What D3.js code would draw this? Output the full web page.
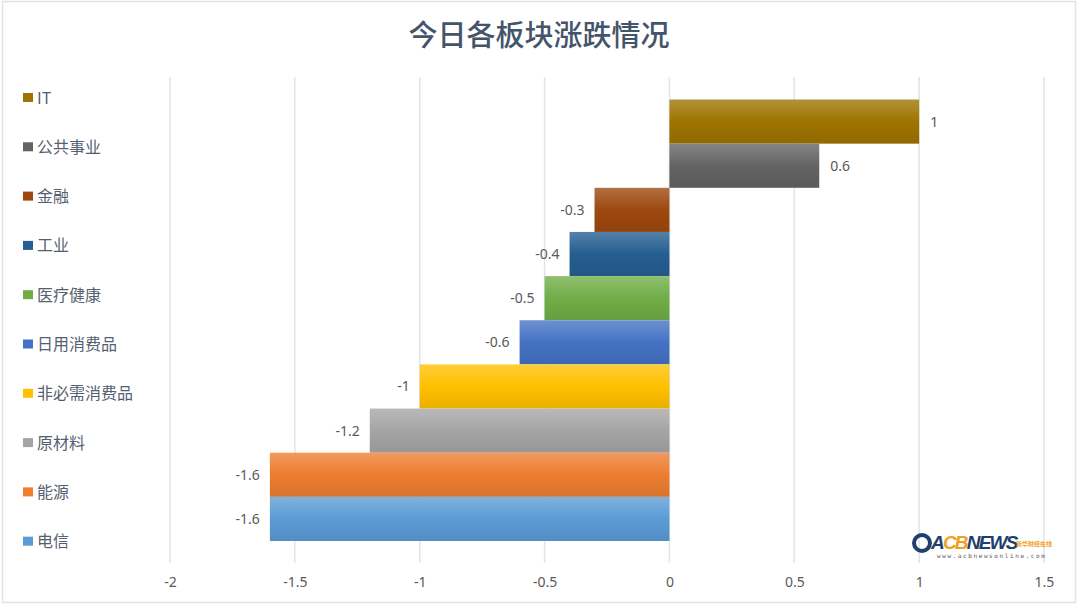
<!DOCTYPE html>
<html>
<head>
<meta charset="utf-8">
<script src="https://cdn.jsdelivr.net/npm/d3@7"></script>
<style>
  html, body { margin: 0; padding: 0; background: #fff; }
  svg { display: block; font-family: "Noto Sans CJK SC", "Noto Sans", sans-serif; }
</style>
</head>
<body>
<svg id="chart"></svg>
<script>
// sectors, top to bottom as drawn
const sectors = ["IT", "公共事业", "金融", "工业", "医疗健康", "日用消费品", "非必需消费品", "原材料", "能源", "电信"];
const changes = [1, 0.6, -0.3, -0.4, -0.5, -0.6, -1, -1.2, -1.6, -1.6];
const colors = ["#9e7300", "#636363", "#9e480e", "#255e91", "#70ad47", "#4472c4", "#ffc000", "#a5a5a5", "#ed7d31", "#5b9bd5"];
const xTicks = [-2, -1.5, -1, -0.5, 0, 0.5, 1, 1.5];

const data = sectors.map((s, i) => ({ name: s, value: changes[i], color: colors[i] }));

const width = 1080, height = 607;
const svg = d3.select("#chart").attr("width", width).attr("height", height);

const x = d3.scaleLinear().domain([-2, 1.5]).range([170, 1044]);
const y = d3.scaleBand().domain(sectors).range([99.5, 541]).padding(0);

// gradients, lighter on top like the office fill
const defs = svg.append("defs");
data.forEach((d, i) => {
  const base = d3.color(d.color);
  const g = defs.append("linearGradient")
    .attr("id", "grad" + i)
    .attr("x1", 0).attr("y1", 0).attr("x2", 0).attr("y2", 1);
  g.append("stop").attr("offset", "0%").attr("stop-color", d3.interpolateRgb(base, "#fff")(0.22));
  g.append("stop").attr("offset", "50%").attr("stop-color", base.formatHex());
  g.append("stop").attr("offset", "100%").attr("stop-color", base.darker(0.25).formatHex());
});

// outer frame
svg.append("rect")
  .attr("x", 2.5).attr("y", 1.5)
  .attr("width", 1073).attr("height", 601)
  .attr("fill", "#fff")
  .attr("stroke", "#dde3ea")
  .attr("stroke-width", 1.5);

svg.append("text")
  .attr("x", 539).attr("y", 46)
  .attr("text-anchor", "middle")
  .attr("font-size", 29)
  .attr("font-weight", 500)
  .attr("fill", "#44546a")
  .text("今日各板块涨跌情况");

// vertical grid
svg.append("g")
  .selectAll("line")
  .data(xTicks)
  .join("line")
  .attr("x1", d => x(d)).attr("x2", d => x(d))
  .attr("y1", 77).attr("y2", 563)
  .attr("stroke", "#dfe5ec")
  .attr("stroke-width", 1.5);

const xAxis = svg.append("g")
  .attr("transform", "translate(0,563)")
  .call(d3.axisBottom(x).tickValues(xTicks).tickSize(0).tickPadding(14).tickFormat(d => String(d)));
xAxis.select(".domain").remove();
xAxis.selectAll("text")
  .attr("font-size", 14)
  .attr("fill", "#595959")
  .attr("font-family", "\"Noto Sans\", sans-serif");

// bars
svg.append("g")
  .selectAll("rect")
  .data(data)
  .join("rect")
  .attr("x", d => x(Math.min(0, d.value)))
  .attr("y", d => y(d.name))
  .attr("width", d => Math.abs(x(d.value) - x(0)))
  .attr("height", y.bandwidth())
  .attr("fill", (d, i) => `url(#grad${i})`);

// value labels
svg.append("g")
  .selectAll("text")
  .data(data)
  .join("text")
  .attr("x", d => d.value >= 0 ? x(d.value) + 11 : x(d.value) - 10)
  .attr("y", d => y(d.name) + y.bandwidth() / 2 + 5)
  .attr("text-anchor", d => d.value >= 0 ? "start" : "end")
  .attr("font-size", 14)
  .attr("fill", "#595959")
  .attr("font-family", "\"Noto Sans\", sans-serif")
  .text(d => d.value);

// legend on the left
const legend = svg.append("g")
  .selectAll("g")
  .data(data)
  .join("g")
  .attr("transform", (d, i) => `translate(23,${98 + i * 49.3})`);
legend.append("rect")
  .attr("x", 0).attr("y", -5)
  .attr("width", 10).attr("height", 9)
  .attr("fill", d => d.color);
legend.append("text")
  .attr("x", 14).attr("y", 5.5)
  .attr("font-size", 16)
  .attr("fill", "#555f70")
  .text(d => d.name);

// watermark logo
const logo = svg.append("g").attr("transform", "translate(912,530)");
logo.append("circle").attr("cx", 10).attr("cy", 13).attr("r", 8)
  .attr("fill", "none").attr("stroke", "#1f3f6e").attr("stroke-width", 4);
logo.append("text").attr("x", 19).attr("y", 19)
  .attr("font-size", 19).attr("font-weight", "bold").attr("font-style", "italic")
  .attr("font-family", "\"Liberation Sans\", sans-serif")
  .attr("letter-spacing", -1.8)
  .call(t => {
    t.append("tspan").attr("fill", "#1f3f6e").text("A");
    t.append("tspan").attr("fill", "#f0a020").text("CB");
    t.append("tspan").attr("fill", "#1f3f6e").text("NEWS");
  });
logo.append("text").attr("x", 104).attr("y", 16)
  .attr("font-size", 6).attr("fill", "#f0a020").attr("font-weight", "bold")
  .text("新华财经在线");
logo.append("text").attr("x", 25).attr("y", 28)
  .attr("font-size", 6).attr("fill", "#555").attr("letter-spacing", 1.6)
  .attr("font-family", "\"DejaVu Sans Mono\", monospace")
  .text("www.acbnewsonline.com");
</script>
</body>
</html>
